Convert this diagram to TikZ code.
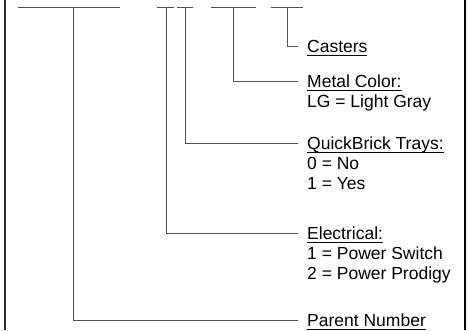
\documentclass[tikz,border=0pt]{standalone}
\usepackage{fontspec}
\setmainfont{Liberation Sans}
\usetikzlibrary{positioning}
\definecolor{leadgray}{RGB}{80,80,80}
\definecolor{framegray}{RGB}{40,40,40}
\newcommand{\ulabel}[1]{\setbox0\hbox{#1}\rlap{\rule[-3.5pt]{\wd0}{0.9pt}}\box0}
\tikzset{
  lead/.style={draw=leadgray,line width=1pt},
  frame/.style={draw=framegray,line width=2pt},
  heading/.style={
    font=\fontsize{17.5}{20}\selectfont,
    anchor=west,
    inner sep=0pt,
    text height=12.5pt,
    text depth=0pt
  },
  value/.style={
    font=\fontsize{17.5}{20}\selectfont,
    anchor=base west,
    inner sep=0pt
  }
}

\begin{document}
\begin{tikzpicture}[x=1pt,y=-1pt]
  \useasboundingbox (0,0) rectangle (469,330);

  % side rules
  \coordinate (frameLT) at (4.5,0);
  \coordinate (frameLB) at (4.5,330);
  \coordinate (frameRT) at (465,0);
  \coordinate (frameRB) at (465,330);
  \draw[frame] (frameLT) -- (frameLB);
  \draw[frame,draw=black] (frameRT) -- (frameRB);

  % code slots along the top
  \coordinate (slot1a) at (18,7);   \coordinate (slot1b) at (120,7);  \coordinate (drop1) at (73,7);
  \coordinate (slot2a) at (157,7);  \coordinate (slot2b) at (174,7);  \coordinate (drop2) at (166,7);
  \coordinate (slot3a) at (177,7);  \coordinate (slot3b) at (193,7);  \coordinate (drop3) at (185,7);
  \coordinate (slot4a) at (211,7);  \coordinate (slot4b) at (256,7);  \coordinate (drop4) at (233,7);
  \coordinate (slot5a) at (271,7);  \coordinate (slot5b) at (303,7);  \coordinate (drop5) at (287,7);
  \foreach \i in {1,...,5}
    \draw[lead] (slot\i a) -- (slot\i b);

  % labels
  \node[heading] at (307,46.5) (casters) {\ulabel{Casters}};

  \node[heading] at (307,81.5) (metal) {\ulabel{Metal Color:}};
  \node[value] at ([yshift=-20pt]metal.base west) (lightgray) {LG = Light Gray};

  \node[heading] at (307,143.5) (trays) {\ulabel{QuickBrick Trays:}};
  \node[value] at ([yshift=-20pt]trays.base west) (traysno) {0 = No};
  \node[value] at ([yshift=-20pt]traysno.base west) (traysyes) {1 = Yes};

  \node[heading] at (307,233) (electrical) {\ulabel{Electrical:}};
  \node[value] at ([yshift=-20pt]electrical.base west) (switch) {1 = Power Switch};
  \node[value] at ([yshift=-20pt]switch.base west) (prodigy) {2 = Power Prodigy};

  \node[heading] at (307,320.5) (parent) {\ulabel{Parent Number}};

  % leaders
  \draw[lead] (drop5) |- ([xshift=-9pt]casters.west);
  \draw[lead] (drop4) |- ([xshift=-9pt]metal.west);
  \draw[lead] (drop3) |- ([xshift=-9pt]trays.west);
  \draw[lead] (drop2) |- ([xshift=-9pt]electrical.west);
  \draw[lead] (drop1) |- ([xshift=-9pt]parent.west);

\end{tikzpicture}
\end{document}
